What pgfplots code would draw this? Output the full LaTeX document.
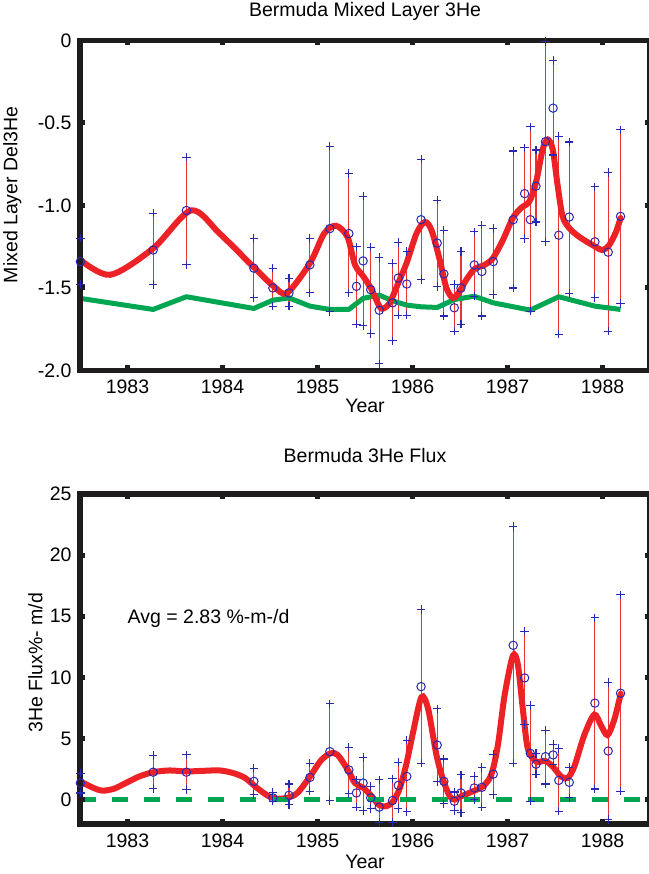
\documentclass[border=0pt]{standalone}
\usepackage{fontspec}
\setmainfont{Liberation Sans}
\usepackage{pgfplots}
\pgfplotsset{compat=1.18}
\usepackage{pgfplotstable}

\definecolor{mred}{RGB}{236,34,39}
\definecolor{ered}{RGB}{236,50,50}
\definecolor{mblue}{RGB}{40,40,180}
\definecolor{mgreen}{RGB}{0,166,81}
\definecolor{frame}{RGB}{30,28,28}

\newcommand{\lbl}{\fontsize{19.5}{23}\selectfont}

% x  value  upper  lower
\pgfplotstableread{
x y hi lo
1982.504 -1.34 -1.198 -1.48
1983.27 -1.27 -1.046 -1.48
1983.62 -1.03 -0.707 -1.36
1984.33 -1.38 -1.20 -1.56
1984.53 -1.50 -1.38 -1.61
1984.70 -1.53 -1.44 -1.61
1984.92 -1.36 -1.20 -1.53
1985.13 -1.14 -0.64 -1.645
1985.33 -1.17 -0.806 -1.53
1985.41 -1.49 -1.25 -1.72
1985.48 -1.336 -0.944 -1.73
1985.56 -1.51 -1.253 -1.777
1985.65 -1.635 -1.316 -1.96
1985.79 -1.59 -1.35 -1.82
1985.85 -1.44 -1.224 -1.665
1985.94 -1.476 -1.28 -1.665
1986.09 -1.086 -0.72 -1.448
1986.26 -1.228 -0.968 -1.49
1986.33 -1.415 -1.15 -1.67
1986.44 -1.62 -1.478 -1.762
1986.51 -1.50 -1.28 -1.72
1986.65 -1.36 -1.16 -1.55
1986.73 -1.40 -1.12 -1.67
1986.85 -1.34 -1.14 -1.54
1987.06 -1.086 -0.67 -1.50
1987.18 -0.928 -0.65 -1.20
1987.24 -1.086 -0.524 -1.64
1987.30 -0.883 -0.664 -1.10
1987.40 -0.613 -0.006 -1.22
1987.48 -0.41 -0.122 -0.694
1987.54 -1.18 -0.58 -1.78
1987.65 -1.07 -0.615 -1.533
1987.92 -1.22 -0.887 -1.557
1988.06 -1.283 -0.80 -1.762
1988.19 -1.066 -0.542 -1.594
}\topdata

\pgfplotstableread{
x y hi lo
1982.504 1.35 2.16 0.54
1983.27 2.24 3.60 0.89
1983.62 2.24 3.65 0.81
1984.33 1.49 2.57 0.41
1984.53 0.14 0.59 -0.14
1984.70 0.35 1.27 -0.40
1984.92 1.81 2.97 0.68
1985.13 3.92 7.84 -0.08
1985.33 2.43 4.28 0.46
1985.41 0.54 1.62 -0.62
1985.48 1.35 3.43 -0.89
1985.56 0.14 1.08 -0.73
1985.65 -0.62 1.62 -1.89
1985.79 -0.08 1.70 -1.89
1985.85 1.16 3.05 -0.73
1985.94 1.89 4.86 -1.00
1986.09 9.24 15.54 2.97
1986.26 4.46 7.43 1.49
1986.33 1.49 3.32 -0.35
1986.44 -0.14 0.62 -0.89
1986.51 0.54 2.03 -1.08
1986.65 0.95 1.89 0.00
1986.73 1.00 2.62 -0.62
1986.85 2.08 3.70 0.41
1987.06 12.62 22.35 2.97
1987.18 9.95 13.78 6.14
1987.24 3.78 7.70 -0.14
1987.30 2.89 3.78 2.08
1987.40 3.51 5.68 1.27
1987.48 3.65 4.51 2.84
1987.54 1.57 4.19 -0.95
1987.65 1.41 2.62 0.14
1987.92 7.89 14.86 0.86
1988.06 3.97 9.59 -1.62
1988.19 8.70 16.76 0.68
}\fluxdata

\pgfplotsset{
  panel/.style={
    scale only axis, width=570pt, height=330pt,
    xmin=1982.5, xmax=1988.5,
    axis on top,
    axis line style={line width=5.5pt, frame},
    tick align=inside, major tick length=5pt,
    tick style={line width=5pt, frame},
    xtick={1983,1984,1985,1986,1987,1988},
    xticklabels={1983,1984,1985,1986,1987,1988},
    tick label style={font=\lbl, inner sep=0pt},
    xticklabel style={anchor=base, yshift=-23.5pt},
    yticklabel style={anchor=east, xshift=-8.3pt},
    label style={font=\lbl, inner sep=0pt},
    title style={font=\lbl, inner sep=0pt, anchor=base},
    xlabel={Year},
    clip=false,
  },
  errs/.style={
    only marks, mark=o, mark size=4.2pt,
    mark options={draw=mblue, line width=1pt},
    error bars/.cd, y dir=both, y explicit,
    error bar style={color=ered, line width=1.1pt},
    error mark=none,
  },
  ends/.style={only marks, mark=+, mark size=4.2pt,
    mark options={draw=mblue, line width=1.1pt}},
}

\begin{document}
\begin{tikzpicture}
\useasboundingbox (0,0) rectangle (648pt,874pt);

\begin{axis}[panel,
  at={(80pt,503.5pt)}, anchor=south west,
  ymin=-2, ymax=0,
  ytick={-2,-1.5,-1,-0.5,0},
  yticklabels={-2.0,-1.5,-1.0,-0.5,0},
  title={Bermuda Mixed Layer 3He},
  title style={at={(axis description cs:0.5,1)}, yshift=18pt},
  xlabel style={at={(axis description cs:0.5,0)}, anchor=base, yshift=-42.5pt},
  ylabel={Mixed Layer Del3He},
  ylabel style={at={(axis description cs:-0.1351,0.5325)}, anchor=north},
]
\addplot[errs] table[x=x, y=y, y error plus expr=\thisrow{hi}-\thisrow{y}, y error minus expr=\thisrow{y}-\thisrow{lo}] {\topdata};
\addplot[ends] table[x=x, y=hi] {\topdata};
\addplot[ends] table[x=x, y=lo] {\topdata};
\addplot[mgreen, line width=5pt, line join=round] coordinates {
(1982.504,-1.563) (1983.27,-1.63) (1983.62,-1.553) (1984.33,-1.624)
(1984.53,-1.574) (1984.70,-1.56) (1984.92,-1.61) (1985.13,-1.63)
(1985.33,-1.63) (1985.48,-1.563) (1985.65,-1.543) (1985.79,-1.578)
(1985.94,-1.604) (1986.09,-1.614) (1986.26,-1.618) (1986.44,-1.57)
(1986.65,-1.55) (1986.85,-1.59) (1987.24,-1.634) (1987.54,-1.553)
(1987.92,-1.61) (1988.19,-1.63)
};
\addplot[mred, line width=6pt, smooth, line cap=round] coordinates {
(1982.504,-1.33) (1982.82,-1.42) (1983.27,-1.26) (1983.67,-1.03)
(1983.97,-1.17) (1984.33,-1.375) (1984.54,-1.49) (1984.68,-1.53)
(1984.92,-1.35) (1985.07,-1.17) (1985.195,-1.123) (1985.315,-1.19)
(1985.395,-1.36) (1985.483,-1.43) (1985.57,-1.51) (1985.65,-1.61)
(1985.69,-1.625) (1985.76,-1.59) (1985.85,-1.47) (1985.937,-1.35)
(1986.042,-1.17) (1986.13,-1.10) (1986.20,-1.15) (1986.287,-1.33)
(1986.357,-1.50) (1986.427,-1.56) (1986.497,-1.52) (1986.566,-1.45)
(1986.654,-1.385) (1986.759,-1.36) (1986.846,-1.32) (1986.951,-1.21)
(1987.056,-1.076) (1987.143,-1.015) (1987.231,-0.975) (1987.30,-0.86)
(1987.37,-0.66) (1987.423,-0.60) (1987.476,-0.66) (1987.528,-0.88)
(1987.58,-1.066) (1987.65,-1.137) (1987.755,-1.19) (1987.895,-1.24)
(1988.0,-1.27) (1988.07,-1.24) (1988.14,-1.163) (1988.19,-1.076)
};
\end{axis}

\begin{axis}[panel,
  at={(80pt,50pt)}, anchor=south west,
  ymin=-2, ymax=25,
  ytick={0,5,10,15,20,25},
  yticklabels={0,5,10,15,20,25},
  title={Bermuda 3He Flux},
  title style={at={(axis description cs:0.5,1)}, yshift=25pt},
  xlabel style={at={(axis description cs:0.5,0)}, anchor=base, yshift=-45pt},
  ylabel={3He Flux\%- m/d},
  ylabel style={at={(axis description cs:-0.0912,0.489)}, anchor=north},
]
\addplot[errs] table[x=x, y=y, y error plus expr=\thisrow{hi}-\thisrow{y}, y error minus expr=\thisrow{y}-\thisrow{lo}] {\fluxdata};
\addplot[ends] table[x=x, y=hi] {\fluxdata};
\addplot[ends] table[x=x, y=lo] {\fluxdata};
\addplot[mred, line width=6pt, smooth, line cap=round] coordinates {
(1982.504,1.49) (1982.628,1.0) (1982.735,0.73) (1982.858,0.89)
(1982.982,1.35) (1983.124,1.89) (1983.273,2.24) (1983.442,2.38)
(1983.619,2.30) (1983.796,2.35) (1983.973,2.38) (1984.115,2.16)
(1984.239,1.76) (1984.363,0.95) (1984.487,0.27) (1984.575,0.08)
(1984.681,0.14) (1984.788,0.54) (1984.922,1.89) (1985.035,3.19)
(1985.135,3.78) (1985.212,3.65) (1985.319,2.43) (1985.395,1.35)
(1985.483,0.95) (1985.570,0.27) (1985.650,-0.46) (1985.727,-0.54)
(1985.797,-0.14) (1985.867,0.95) (1985.937,2.97) (1986.007,5.54)
(1986.094,8.38) (1986.164,7.43) (1986.252,3.65) (1986.322,1.62)
(1986.392,0.27) (1986.444,0.0) (1986.514,0.27) (1986.636,0.68)
(1986.741,1.08) (1986.829,2.03) (1986.899,4.46) (1986.969,8.51)
(1987.056,11.76) (1987.108,11.08) (1987.161,7.43) (1987.213,4.19)
(1987.301,3.11) (1987.395,3.16) (1987.476,2.70) (1987.563,1.89)
(1987.633,1.76) (1987.703,2.70) (1987.808,5.27) (1987.913,6.95)
(1987.983,6.08) (1988.052,5.27) (1988.122,6.49) (1988.192,8.65)
};
\addplot[mgreen, line width=4.8pt, dash pattern=on 15.5pt off 16.5pt] coordinates {(1982.5,0) (1988.5,0)};
\node[font=\lbl, anchor=base west, inner sep=0pt] at (axis cs:1983.0,14.41) {Avg = 2.83 \%-m-/d};
\end{axis}
\end{tikzpicture}
\end{document}
